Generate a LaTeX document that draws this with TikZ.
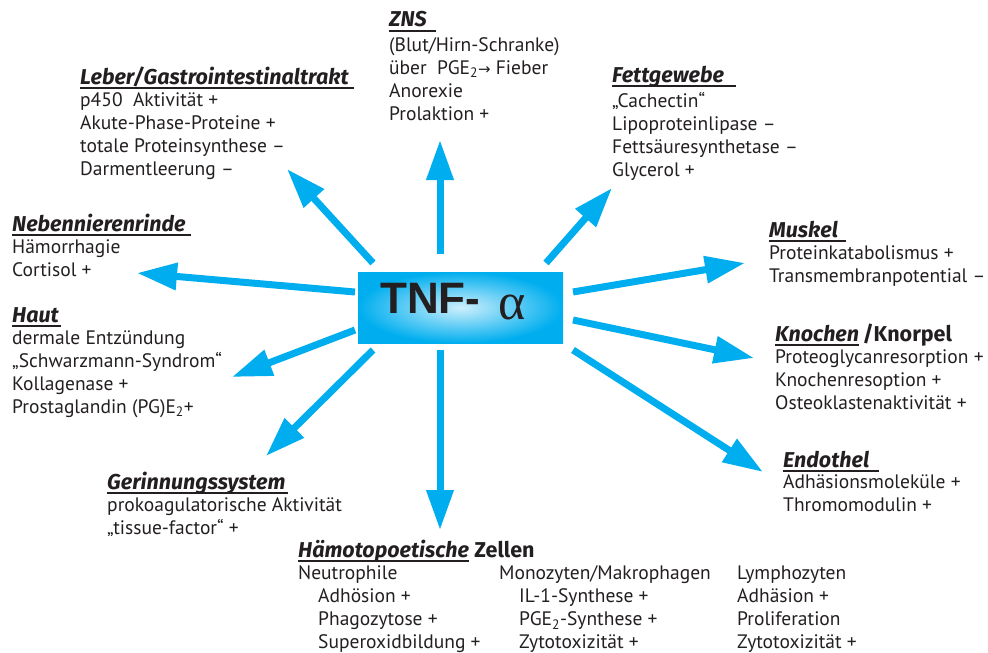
\documentclass[tikz,border=0pt]{standalone}
\usepackage{fontspec}
\setmainfont{PT Sans}
\newfontfamily\hdfamily{Fira Sans}
\newfontfamily\tnffont{Liberation Sans}
\newfontfamily\grkfont{Liberation Serif}
\newfontfamily\symfont{DejaVu Sans}
\usetikzlibrary{arrows.meta}
\usetikzlibrary{positioning}
\definecolor{tnfblue}{HTML}{00AEEF}
\definecolor{tnflight}{HTML}{CDEFFC}
\definecolor{ink}{HTML}{231F20}
\def\hdfont{\hdfamily\fontsize{21.5}{23}\selectfont\bfseries}
\def\ind{\hspace*{20pt}}
\tikzset{
  organ/.style={anchor=base west, inner sep=0pt, font=\hdfont\itshape, text=ink},
  effects/.style={anchor=north west, inner sep=0pt, align=left, font=\fontsize{19.5}{23}\selectfont, text=ink, execute at begin node=\strut},
  effarrow/.style={tnfblue, line width=7pt, -{Triangle[length=40pt,width=26pt]}},
  uline/.style={ink, line width=1.3pt},
}

\begin{document}
\begin{tikzpicture}[x=1pt, y=-1pt]
\useasboundingbox (0,0) rectangle (988,653);
% centre box
\node[minimum width=205pt, minimum height=71pt, inner sep=0pt, inner color=tnflight, outer color=tnfblue] (tnf) at (460.5,307.5) {};
\node[anchor=base west, inner sep=0pt, font=\tnffont\bfseries\fontsize{44}{44}\selectfont, text=ink] (tnflabel) at (380,313) {TNF-};
\node[anchor=base west, inner sep=0pt, font=\grkfont\fontsize{52}{52}\selectfont, text=ink] (alpha) at (498,319) {α};

% organs (body text: first baseline 25pt under the heading, strut 16.1pt)
\node[organ] (zns) at (389,27) {ZNS};
\node[effects] (znsfx) at ([yshift=-10.4pt]zns.base west) {(Blut/Hirn-Schranke)\\über\ \ PGE\textsubscript{2}{\symfont\fontsize{15}{23}\selectfont→} Fieber\\Anorexie\\Prolaktion +};
\node[organ] (leber) at (80,84) {Leber/Gastrointestinaltrakt};
\node[effects] (leberfx) at ([yshift=-8.9pt]leber.base west) {p450\ \ Aktivität +\\Akute-Phase-Proteine +\\totale Proteinsynthese –\\Darmentleerung –};
\node[organ] (fett) at (612,82) {Fettgewebe};
\node[effects] (fettfx) at ([yshift=-10.4pt]fett.base west) {„Cachectin“\\Lipoproteinlipase –\\Fettsäuresynthetase –\\Glycerol +};
\node[organ] (neben) at (12,231) {Nebennierenrinde};
\node[effects] (nebenfx) at ([yshift=-8.9pt]neben.base west) {Hämorrhagie\\Cortisol +};
\node[organ] (haut) at (12,322) {Haut};
\node[effects] (hautfx) at ([yshift=-8.9pt]haut.base west) {dermale Entzündung\\„Schwarzmann-Syndrom“\\Kollagenase +\\Prostaglandin (PG)E\textsubscript{2}+};
\node[organ] (gerinn) at (107,489) {Gerinnungssystem};
\node[effects] (gerinnfx) at ([yshift=-8.9pt]gerinn.base west) {prokoagulatorische Aktivität\\„tissue-factor“ +};
\node[organ] (muskel) at (769,237) {Muskel};
\node[effects] (muskelfx) at ([yshift=-8.9pt]muskel.base west) {Proteinkatabolismus +\\Transmembranpotential –};
\node[organ] (knochen) at (775,341) {Knochen};
\node[organ, font=\hdfont] (knorpel) at ([xshift=3pt]knochen.base east) {/Knorpel};
\node[effects] (knochenfx) at ([yshift=-8.9pt]knochen.base west) {Proteoglycanresorption +\\Knochenresoption +\\Osteoklastenaktivität +};
\node[organ] (endo) at (783,467) {Endothel};
\node[effects] (endofx) at ([yshift=-7.9pt]endo.base west) {Adhäsionsmoleküle +\\Thromomodulin +};
\node[organ] (hamo) at (298,557) {Hämotopoetische};
\node[organ, font=\hdfont] (zellen) at ([xshift=5pt]hamo.base east) {Zellen};
\node[effects] (neutro) at ([yshift=-8.9pt]hamo.base west) {Neutrophile\\\ind Adhösion +\\\ind Phagozytose +\\\ind Superoxidbildung +};
\node[effects] (mono) at (499,565.9) {Monozyten/Makrophagen\\\ind IL-1-Synthese +\\\ind PGE\textsubscript{2}-Synthese +\\\ind Zytotoxizität +};
\node[effects] (lympho) at (737,565.9) {Lymphozyten\\Adhäsion +\\Proliferation\\Zytotoxizität +};

% underlines
\foreach \n/\e in {zns/9,leber/5,fett/12,neben/5,haut/2,gerinn/2,muskel/8,knochen/0,endo/10,hamo/0}
  \draw[uline] ([yshift=-4pt]\n.base west) -- ([xshift=\e pt,yshift=-4pt]\n.base east);

% arrow tips
\coordinate (znstip) at (440,140);
\coordinate (lebertip) at (287,169);
\coordinate (fetttip) at (612,188);
\coordinate (nebentip) at (137,273);
\coordinate (hauttip) at (232,377);
\coordinate (gerinntip) at (266,456);
\coordinate (hamotip) at (440,530);
\coordinate (muskeltip) at (745,263);
\coordinate (knochentip) at (754,358);
\coordinate (endotip) at (763,472);

\draw[effarrow] ([shift={(-20.5pt,53.5pt)}]tnf.center) -- (znstip);
\draw[effarrow] ([shift={(-87.5pt,44.5pt)}]tnf.center) -- (lebertip);
\draw[effarrow] ([shift={(85.5pt,44.5pt)}]tnf.center) -- (fetttip);
\draw[effarrow] ([shift={(-105.5pt,15.5pt)}]tnf.center) -- (nebentip);
\draw[effarrow] ([shift={(-105.5pt,-22.5pt)}]tnf.center) -- (hauttip);
\draw[effarrow] ([shift={(-87.5pt,-42.5pt)}]tnf.center) -- (gerinntip);
\draw[effarrow] ([shift={(-20.5pt,-42.5pt)}]tnf.center) -- (hamotip);
\draw[effarrow] ([shift={(112.5pt,15.5pt)}]tnf.center) -- (muskeltip);
\draw[effarrow] ([shift={(112.5pt,-12.5pt)}]tnf.center) -- (knochentip);
\draw[effarrow] ([shift={(112.5pt,-42.5pt)}]tnf.center) -- (endotip);
\end{tikzpicture}
\end{document}
